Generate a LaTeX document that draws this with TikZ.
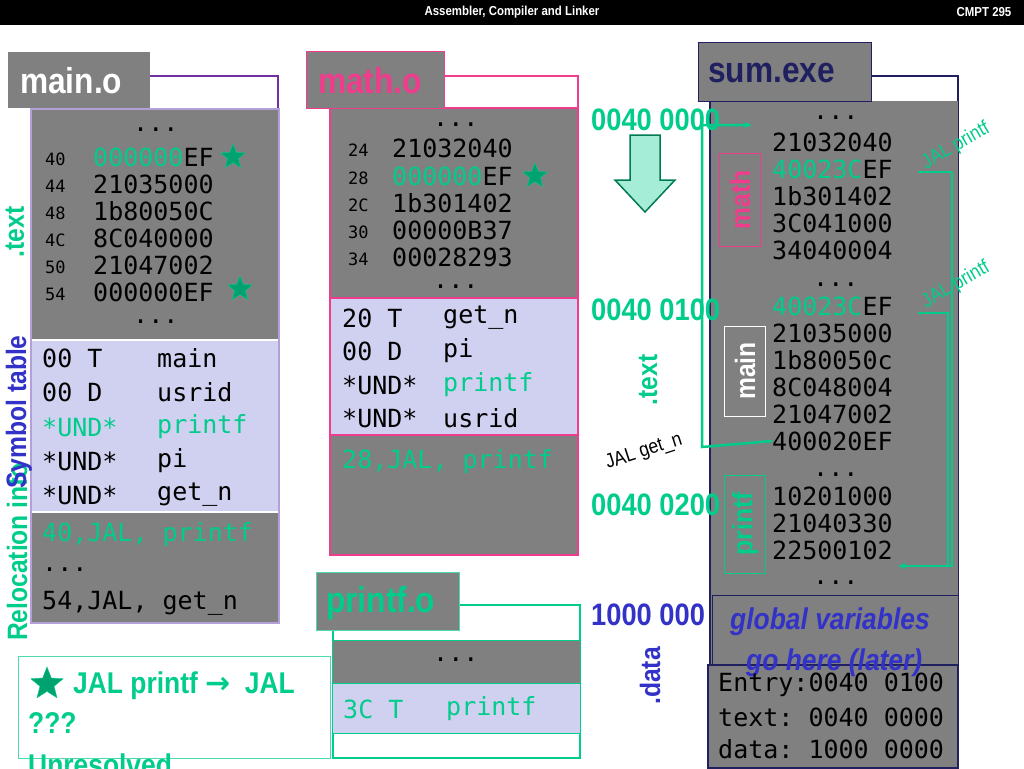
\documentclass[tikz,border=0pt]{standalone}
\usepackage{fontspec}
\usepackage{tikz}
\usetikzlibrary{shapes.geometric,arrows.meta}
\setmonofont{DejaVu Sans Mono}
\newfontfamily\cond[FakeStretch=0.88]{Liberation Sans}
\newfontfamily\symb{DejaVu Sans}
\definecolor{slgray}{RGB}{128,128,128}
\definecolor{slgreen}{RGB}{0,204,140}
\definecolor{slpink}{RGB}{240,60,140}
\definecolor{slpurple}{RGB}{112,48,160}
\definecolor{slnavy}{RGB}{32,32,96}
\definecolor{slblue}{RGB}{50,50,200}
\definecolor{sllav}{RGB}{208,208,240}
\begin{document}
\begin{tikzpicture}[x=1pt,y=-1pt]
    \tikzstyle{code}=[anchor=west,inner sep=0pt,font=\fontsize{25}{25}\ttfamily]
    \tikzstyle{addr}=[anchor=west,inner sep=0pt,font=\fontsize{17}{17}\ttfamily]
    \tikzstyle{tab}=[anchor=west,inner sep=0pt,font=\fontsize{36}{36}\cond\bfseries]
    \tikzstyle{side}=[inner sep=0pt,rotate=90,font=\fontsize{28}{28}\cond\bfseries]
    \tikzstyle{hexaddr}=[anchor=west,inner sep=0pt,text=slgreen,font=\fontsize{31}{31}\cond\bfseries]
    \tikzstyle{starmark}=[star,star points=5,star point ratio=2.3,minimum size=26pt,inner sep=0pt,fill=slgreen!80!black,draw=slgreen]
    \tikzstyle{link}=[draw=slgreen,line width=2.5pt]

    \useasboundingbox (0,0) rectangle (1024,768);
    \fill[white] (0,0) rectangle (1024,768);

    % Title bar
    \fill[black] (0,0) rectangle (1024,25);
    \node[text=white,font=\fontsize{13}{13}\cond\bfseries] (title) at (512,12) {Assembler, Compiler and Linker};
    \node[text=white,font=\fontsize{13}{13}\cond\bfseries] (course) at (984,12) {CMPT 295};

    % main.o
    \draw[slpurple,line width=2pt] (150,76) -- (278,76) -- (278,108);
    \fill[slgray] (8,52) rectangle (150,108);
    \node[tab,text=white] (maintab) at (20,81) {main.o};
    \fill[slgray] (32,110) rectangle (278,340);
    \fill[sllav] (32,340) rectangle (278,512);
    \fill[slgray] (32,512) rectangle (278,622);
    \draw[sllav!70!slpurple,line width=1.5pt] (31,109) rectangle (279,623);
    \draw[white,line width=1.5pt] (32,340) -- (278,340) (32,512) -- (278,512);
    \node[code] (mdots1) at (133,130) {...};
    \foreach \a/\v/\y in {40/{\textcolor{slgreen}{000000}EF}/157, 44/21035000/184, 48/1b80050C/211, 4C/8C040000/238, 50/21047002/265, 54/000000EF/292} {
        \node[addr] (ma-\a) at (45,\y+2) {\a};
        \node[code] (mv-\a) at (93,\y) {\v};
    }
    \node[code] (mdots2) at (133,322) {...};
    \node[starmark] (mstar1) at (233,157) {};
    \node[starmark] (mstar2) at (240,289) {};
    \foreach \k/\t/\n/\y in {1/00 T/main/358, 2/00 D/usrid/392, 4/*UND*/pi/461, 5/*UND*/get\_n/495} {
        \node[code] (ms-\k) at (42,\y) {\t};
        \node[code] (mn-\k) at (157,\y) {\n};
    }
    \node[code,text=slgreen] (ms-3) at (42,427) {*UND*};
    \node[code,text=slgreen] (mn-3) at (157,427) {printf};
    \node[code,text=slgreen] (mr-1) at (42,535) {40,JAL, printf};
    \node[code] (mr-2) at (42,570) {...};
    \node[code] (mr-3) at (42,603) {54,JAL, get\_n};
    \node[side,text=slgreen] (ltext) at (15,232) {.text};
    \node[side,text=slgreen] (lreloc) at (17,552) {Relocation info};
    \node[side,text=slblue] (lsym) at (19,412) {Symbol table};

    % note
    \draw[slgreen!70,line width=1pt] (18,656) rectangle (330,758);
    \begin{scope}
        \clip (0,640) rectangle (340,768);
        \node[starmark,minimum size=34pt] (nstar) at (47,684) {};
        \node[anchor=west,inner sep=0pt,text=slgreen,font=\fontsize{30}{30}\cond\bfseries] (note1) at (73,686) {JAL printf {\symb\bfseries →}\ \ JAL};
        \node[anchor=west,inner sep=0pt,text=slgreen,font=\fontsize{30}{30}\cond\bfseries] (note2) at (28,723) {???};
        \node[anchor=west,inner sep=0pt,text=slgreen,font=\fontsize{30}{30}\cond\bfseries] (note3) at (28,765) {Unresolved};
    \end{scope}

    % math.o
    \draw[slpink,line width=2pt] (444,76) -- (578,76) -- (578,108);
    \fill[slgray] (330,108) rectangle (578,298);
    \fill[sllav] (330,298) rectangle (578,435);
    \fill[slgray] (330,435) rectangle (578,555);
    \draw[slpink,line width=1.5pt] (330,108) rectangle (578,555);
    \draw[slpink,line width=1.5pt] (330,298) -- (578,298) (330,435) -- (578,435);
    \fill[slgray,draw=slpink,line width=1pt] (306,52) rectangle (444,108);
    \node[tab,text=slpink] (mathtab) at (318,81) {math.o};
    \node[code] (tdots1) at (433,125) {...};
    \foreach \a/\v/\y in {24/21032040/148, 28/{\textcolor{slgreen}{000000}EF}/176, 2C/1b301402/203, 30/00000B37/230, 34/00028293/257} {
        \node[addr] (ta-\a) at (348,\y+2) {\a};
        \node[code] (tv-\a) at (392,\y) {\v};
    }
    \node[code] (tdots2) at (433,287) {...};
    \node[starmark] (tstar) at (535,176) {};
    \foreach \k/\t/\n/\y in {1/20 T/get\_n/318, 2/00 D/pi/351, 4/*UND*/usrid/418} {
        \node[code] (ts-\k) at (342,\y) {\t};
        \node[code] (tn-\k) at (443,\y) {\n};
    }
    \node[code] (ts-3) at (342,385) {*UND*};
    \node[code,text=slgreen] (tn-3) at (443,385) {printf};
    \node[code,text=slgreen] (tr-1) at (342,462) {28,JAL, printf};

    % printf.o
    \draw[slgreen,line width=2pt] (459,605) -- (580,605) -- (580,758) -- (333,758) -- (333,630);
    \fill[slgray] (333,640) rectangle (580,683);
    \fill[sllav] (333,683) rectangle (580,733);
    \draw[slgreen,line width=1pt] (333,640) -- (580,640) (333,683) -- (580,683) (333,733) -- (580,733);
    \fill[slgray,draw=slgreen!70,line width=1pt] (316,572) rectangle (459,630);
    \node[tab,text=slgreen] (printftab) at (326,603) {printf.o};
    \node[code] (pdots) at (433,660) {...};
    \node[code,text=slgreen] (ps-1) at (343,709) {3C T};
    \node[code,text=slgreen] (pn-1) at (446,709) {printf};

    % sum.exe
    \draw[slnavy,line width=2pt] (871,76) -- (958,76) -- (958,665);
    \fill[slgray] (710,101) rectangle (958,665);
    \draw[slnavy,line width=2pt] (710,101) -- (710,665);
    \draw[slnavy,line width=1pt] (712,595) rectangle (958,665);
    \fill[slgray,draw=slnavy,line width=1.5pt] (708,665) rectangle (958,768);
    \fill[slgray,draw=slnavy,line width=1pt] (698,43) rectangle (871,101);
    \node[tab,text=slnavy] (sumtab) at (708,73) {sum.exe};
    \foreach \k/\v/\y in {2/21032040/142, 3/{\textcolor{slgreen}{40023C}EF}/169, 4/1b301402/196, 5/3C041000/223, 6/34040004/250, 8/{\textcolor{slgreen}{40023C}EF}/306, 9/21035000/333, 10/1b80050c/360, 11/8C048004/387, 12/21047002/414, 13/400020EF/441, 15/10201000/496, 16/21040330/523, 17/22500102/550}
        \node[code] (sv-\k) at (772,\y) {\v};
    \node[code] (sv-1) at (813,118) {...};
    \node[code] (sv-7) at (813,285) {...};
    \node[code] (sv-14) at (813,475) {...};
    \node[code] (sv-18) at (813,583) {...};
    \draw[slpink,line width=1pt] (719,153) rectangle (760,246);
    \node[side,text=slpink] (smath) at (740,200) {math};
    \draw[white,line width=1pt] (724,326) rectangle (765,416);
    \node[side,text=white] (smain) at (745,371) {main};
    \draw[slgreen,line width=1pt] (724,475) rectangle (765,573);
    \node[side,text=slgreen] (sprintf) at (745,524) {printf};
    \node[anchor=west,inner sep=0pt,text=slblue,font=\fontsize{30}{30}\cond\bfseries\itshape] (glob1) at (730,622) {global variables};
    \node[anchor=west,inner sep=0pt,text=slblue,font=\fontsize{30}{30}\cond\bfseries\itshape] (glob2) at (746,663) {go here (later)};
    \node[code] (hd-1) at (718,685) {Entry:0040 0100};
    \node[code] (hd-2) at (718,717) {text: 0040 0000};
    \node[code] (hd-3) at (718,749) {data: 1000 0000};

    % addresses
    \node[hexaddr] (a0) at (591,120) {0040 0000};
    \filldraw[fill=slgreen!35,draw=slgreen!60!black,line width=1.5pt] (630,135) -- (660,135) -- (660,180) -- (675,180) -- (645,212) -- (615,180) -- (630,180) -- cycle;
    \node[hexaddr] (a1) at (591,310) {0040 0100};
    \node[side,text=slgreen] (mtext) at (648,380) {.text};
    \node[anchor=center,inner sep=0pt,rotate=18,font=\fontsize{20}{20}\cond] (getn) at (644,452) {JAL get\_n};
    \node[hexaddr] (a2) at (591,505) {0040 0200};
    \node[hexaddr,text=slblue] (a3) at (591,615) {1000 000};
    \node[side,text=slblue] (mdata) at (650,676) {.data};

    % links
    \coordinate (jmpA) at (702,447);
    \coordinate (jmpB) at (702,125);
    \coordinate (jmpC) at (752,125);
    \draw[link,-{Stealth[length=8pt]}] (sv-13.west) -- (jmpA) -- (jmpB) -- (jmpC);
    \coordinate (prA) at (952,172);
    \coordinate (prB) at (952,566);
    \coordinate (prC) at (898,566);
    \draw[link] (918,172) -- (prA);
    \draw[link] (918,313) -- (948,313) -- (948,566);
    \draw[link,-{Stealth[length=8pt]}] (prA) -- (prB) -- (prC);
    \node[rotate=30,inner sep=0pt,text=slgreen,font=\fontsize{20}{20}\cond] (jp1) at (956,146) {JAL printf};
    \node[rotate=30,inner sep=0pt,text=slgreen,font=\fontsize{20}{20}\cond] (jp2) at (956,285) {JAL printf};
\end{tikzpicture}
\end{document}
